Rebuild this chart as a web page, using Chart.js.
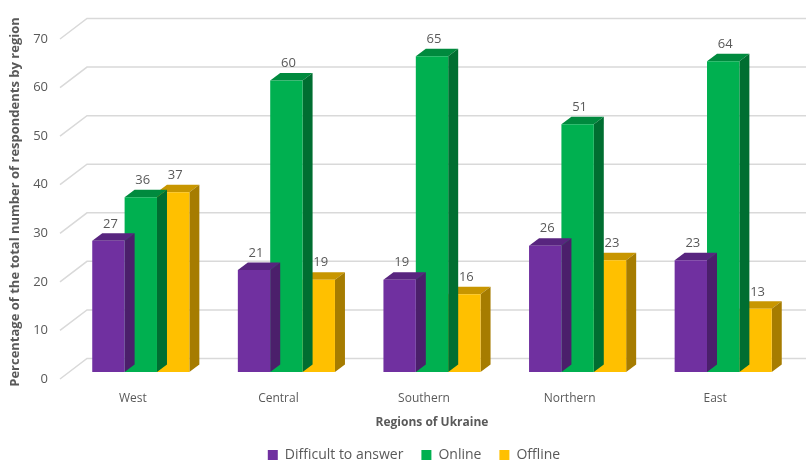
<!DOCTYPE html>
<html>
<head>
<meta charset="utf-8">
<script src="https://cdn.jsdelivr.net/npm/chart.js@4.4.1/dist/chart.umd.min.js"></script>
<style>
  html, body { margin: 0; padding: 0; background: #ffffff; }
  #wrap { width: 806px; height: 461px; }
</style>
</head>
<body>
<div id="wrap"><canvas id="regionChart" width="806" height="461"></canvas></div>
<script>
// data
const regions = ["West", "Central", "Southern", "Northern", "East"];
const difficultValues = [27, 21, 19, 26, 23];
const onlineValues = [36, 60, 65, 51, 64];
const offlineValues = [37, 19, 16, 23, 13];
const yTicks = [0, 10, 20, 30, 40, 50, 60, 70];

// depth of the fake 3D bars and of the wall
const DX = 10, DY = 7.5;
const WALL_FRONT = { dx: -8, dy: 7 };
const WALL_BACK = { dx: 19, dy: -13.5 };
const LEGEND_SHIFT = 16;

const textGray = "#595959";
const gridGray = "#D9D9D9";

// shaded faces per dataset: [top, side]
const faces = [
  ["#58257F", "#4B1F6B"],
  ["#008A3E", "#006E31"],
  ["#C89600", "#A67C00"],
];

const wallPlugin = {
  id: "wall",
  // legend sits a little right of centre in the original
  afterLayout(chart) {
    if (chart.legend) {
      chart.legend.left += LEGEND_SHIFT;
      chart.legend.right += LEGEND_SHIFT;
    }
  },
  beforeDatasetsDraw(chart) {
    const { ctx, chartArea } = chart;
    const y = chart.scales.y;
    ctx.save();
    ctx.strokeStyle = gridGray;
    ctx.lineWidth = 1.5;
    yTicks.forEach((v) => {
      const py = y.getPixelForValue(v);
      ctx.beginPath();
      ctx.moveTo(chartArea.left + WALL_FRONT.dx, py + WALL_FRONT.dy);
      ctx.lineTo(chartArea.left + WALL_BACK.dx, py + WALL_BACK.dy);
      ctx.lineTo(chart.width, py + WALL_BACK.dy);
      ctx.stroke();
    });
    ctx.restore();
  },
  // top and side faces go down before the front of each dataset
  beforeDatasetDraw(chart, args) {
    const { ctx } = chart;
    const meta = chart.getDatasetMeta(args.index);
    const [topC, sideC] = faces[args.index];
    ctx.save();
    meta.data.forEach((bar) => {
      const p = bar.getProps(["x", "y", "base", "width"], true);
      const x0 = p.x - p.width / 2, x1 = p.x + p.width / 2;
      ctx.fillStyle = topC;
      ctx.beginPath();
      ctx.moveTo(x0, p.y);
      ctx.lineTo(x0 + DX, p.y - DY);
      ctx.lineTo(x1 + DX, p.y - DY);
      ctx.lineTo(x1, p.y);
      ctx.closePath();
      ctx.fill();
      ctx.fillStyle = sideC;
      ctx.beginPath();
      ctx.moveTo(x1, p.y);
      ctx.lineTo(x1 + DX, p.y - DY);
      ctx.lineTo(x1 + DX, p.base - DY);
      ctx.lineTo(x1, p.base);
      ctx.closePath();
      ctx.fill();
    });
    ctx.restore();
  },
  afterDatasetsDraw(chart) {
    const { ctx } = chart;
    ctx.save();
    ctx.fillStyle = textGray;
    ctx.font = "13px 'Open Sans'";
    ctx.textAlign = "center";
    ctx.textBaseline = "middle";
    chart.data.datasets.forEach((ds, i) => {
      chart.getDatasetMeta(i).data.forEach((bar, j) => {
        ctx.fillText(String(ds.data[j]), bar.x + 2, bar.y - 17);
      });
    });
    ctx.restore();
  },
};

new Chart(document.getElementById("regionChart"), {
  type: "bar",
  data: {
    labels: regions,
    datasets: [
      { label: "Difficult to answer", data: difficultValues, backgroundColor: "#7030A0" },
      { label: "Online", data: onlineValues, backgroundColor: "#00B050" },
      { label: "Offline", data: offlineValues, backgroundColor: "#FFC000" },
    ],
  },
  options: {
    responsive: false,
    animation: false,
    datasets: {
      bar: { categoryPercentage: 0.667, barPercentage: 1.0, borderWidth: 0 },
    },
    // legend box is 10px taller than its content, pull it down a bit
    layout: { padding: { top: 32, right: 10, left: 0, bottom: -11 } },
    scales: {
      x: {
        grid: { display: false, drawTicks: false },
        border: { display: false },
        ticks: { color: textGray, font: { family: "Open Sans", size: 12 }, padding: 19, labelOffset: -8 },
        title: {
          display: true,
          text: "Regions of Ukraine",
          color: textGray,
          font: { family: "Open Sans", size: 12, weight: "bold" },
          padding: { top: 4, bottom: 0 },
        },
        afterFit(scale) { scale.height = 58; },
      },
      y: {
        min: 0,
        max: 70,
        grid: { display: false, drawTicks: false },
        border: { display: false },
        ticks: { stepSize: 10, color: textGray, font: { family: "Open Sans", size: 13 }, padding: 20, labelOffset: 7 },
        title: {
          display: true,
          text: "Percentage of the total number of respondents by region",
          color: textGray,
          font: { family: "Open Sans", size: 13, weight: "bold" },
          padding: { top: 7, bottom: 0 },
        },
        afterFit(scale) { scale.width = 68; },
      },
    },
    plugins: {
      legend: {
        position: "bottom",
        labels: { color: textGray, font: { family: "Open Sans", size: 14 }, boxWidth: 10, boxHeight: 10, padding: 18 },
      },
      tooltip: { enabled: false },
    },
  },
  plugins: [wallPlugin],
});
</script>
</body>
</html>
